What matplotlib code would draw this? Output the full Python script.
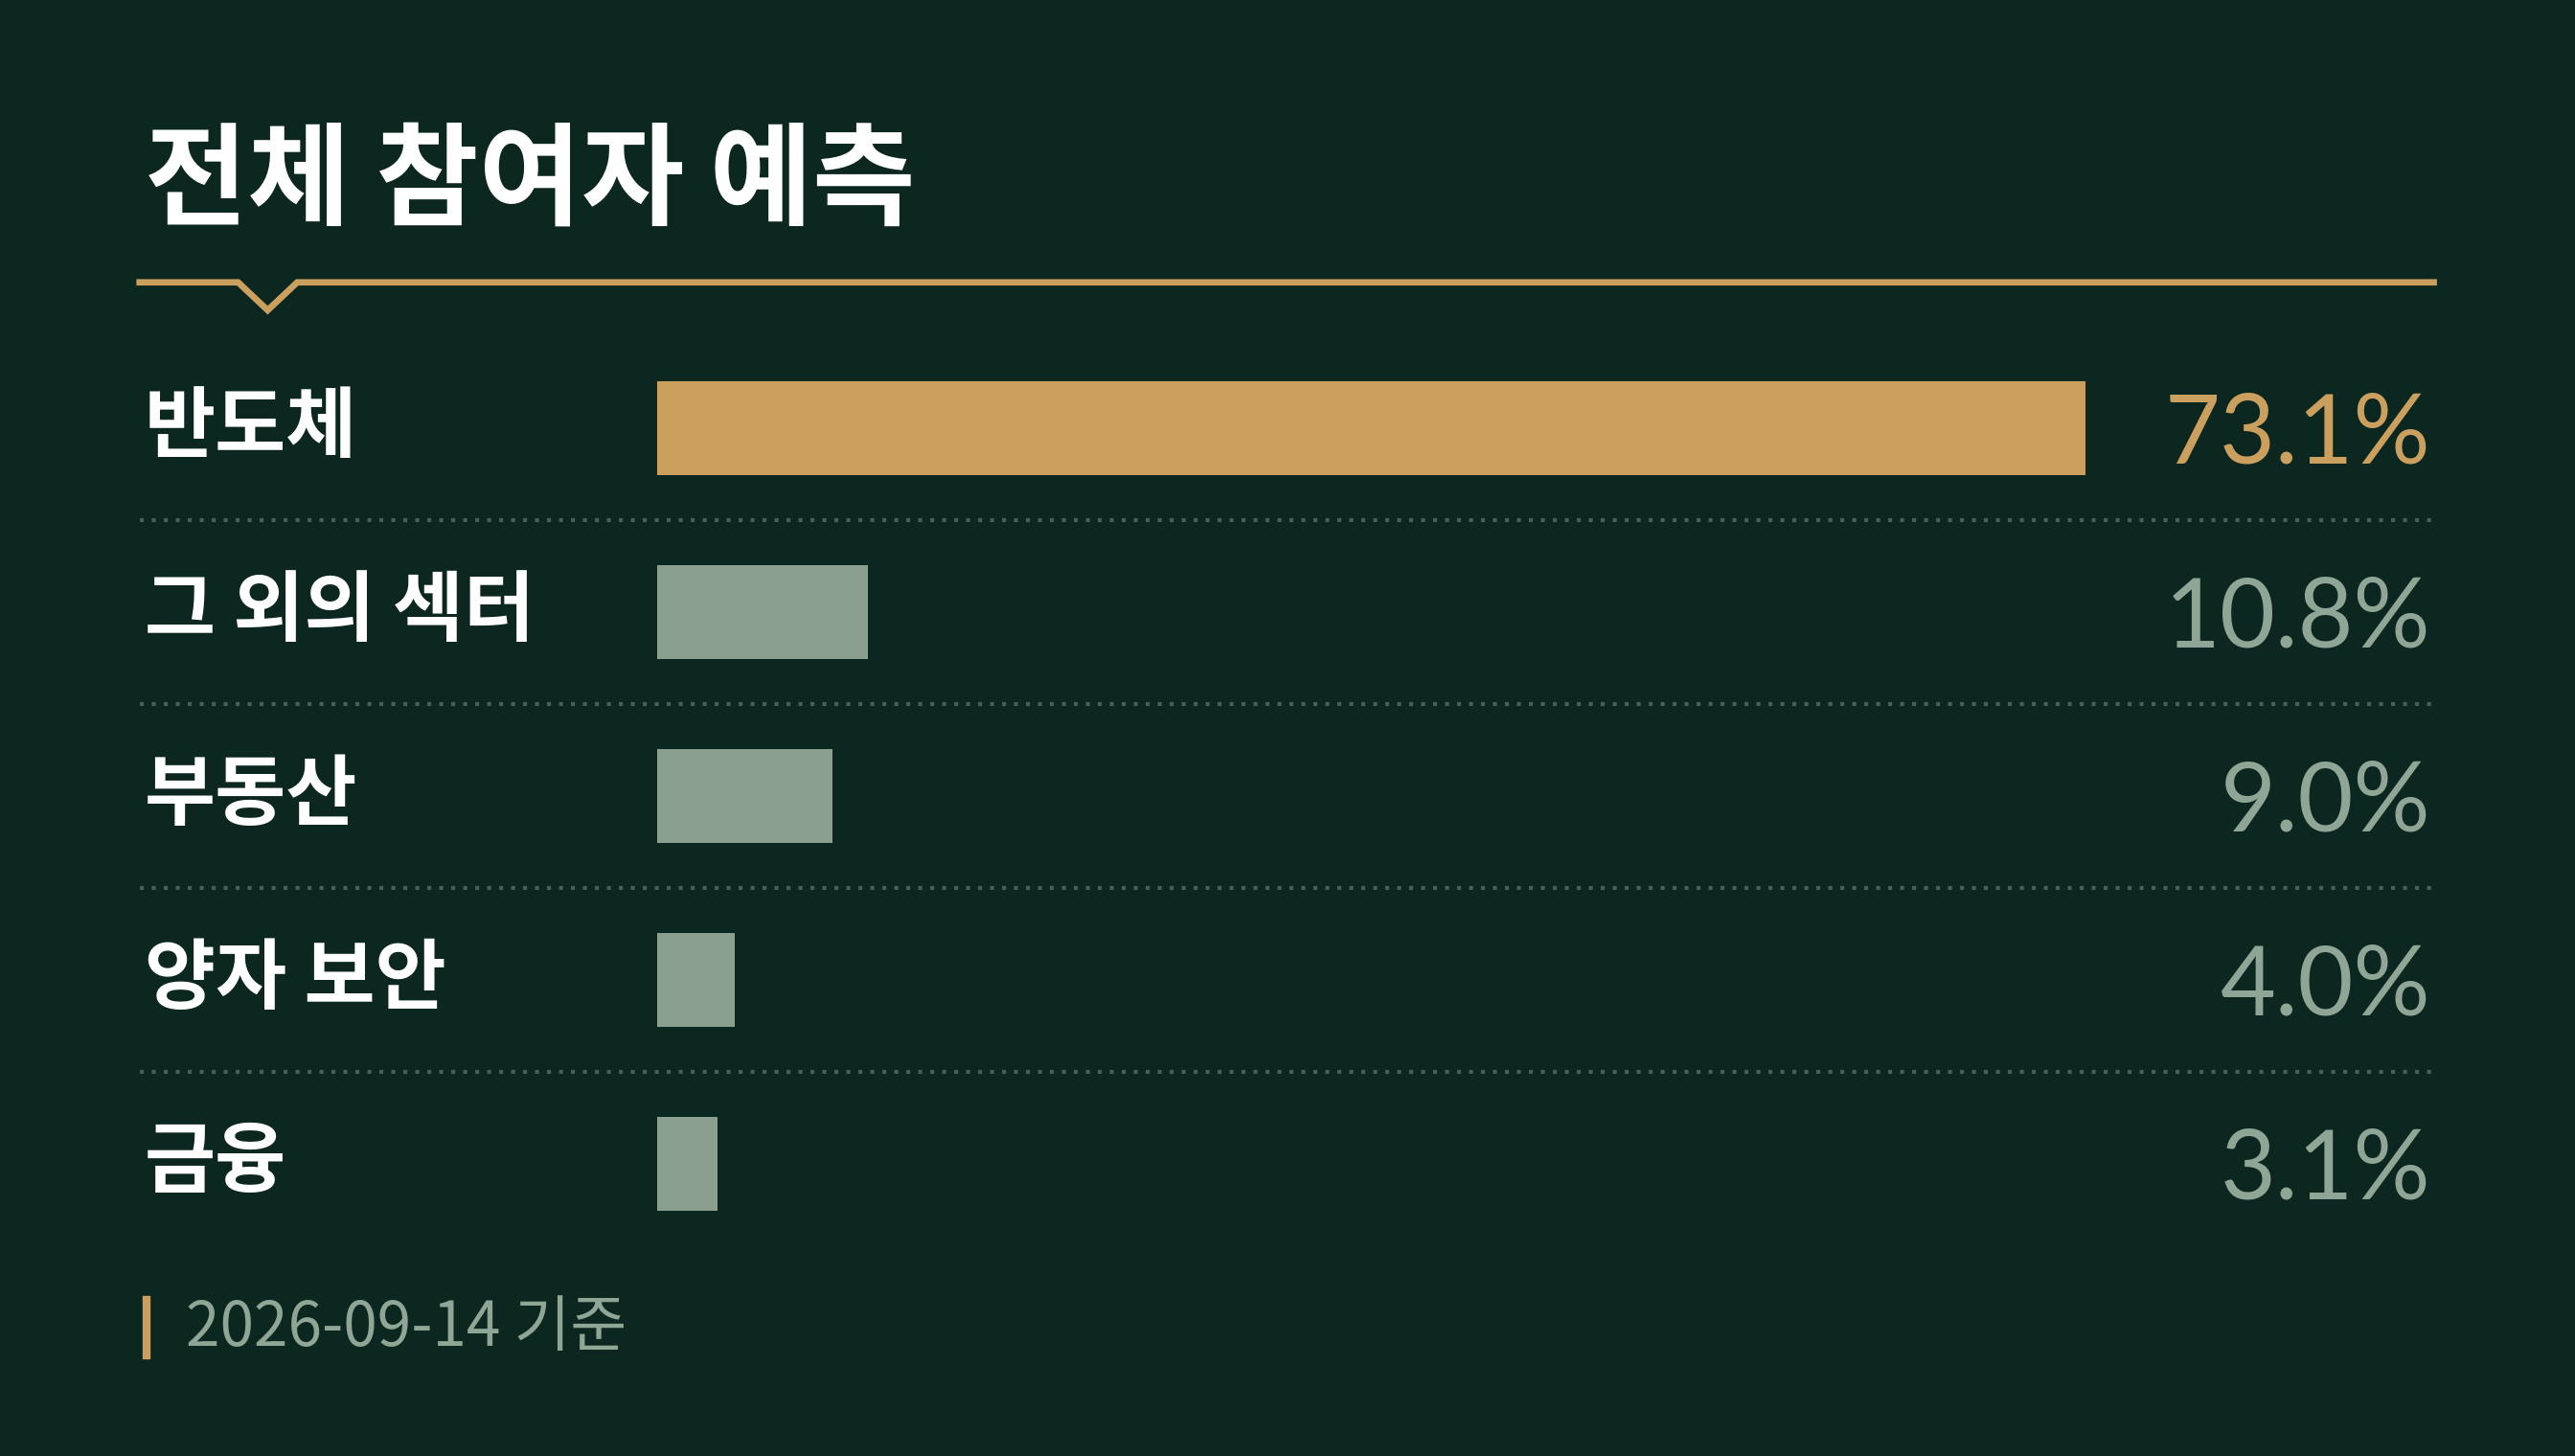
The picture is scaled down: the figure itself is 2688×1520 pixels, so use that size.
import matplotlib.pyplot as plt
import matplotlib.transforms as mtransforms

# data
categories = ['반도체', '그 외의 섹터', '부동산', '양자 보안', '금융']
shares = [73.1, 10.8, 9.0, 4.0, 3.1]
value_labels = ['73.1%', '10.8%', '9.0%', '4.0%', '3.1%']
title = '전체 참여자 예측'
footnote = '2026-09-14 기준'

bg = '#0c2720'
gold = '#cba05f'
sage = '#8b9f8f'
sage_text = '#8fa596'
dot_col = '#416255'

plt.rcParams['font.family'] = ['Noto Sans CJK KR', 'DejaVu Sans']

W, H = 1568, 887  # layout grid (reference preview units)
fig = plt.figure(figsize=(13.44, 7.6), dpi=200, facecolor=bg)

def fx(x):
    return x / W

def fy(y):
    return 1 - y / H

# background axes for decorations
deco = fig.add_axes([0, 0, 1, 1])
deco.set_xlim(0, W)
deco.set_ylim(H, 0)
deco.axis('off')
deco.set_facecolor(bg)

# title
deco.text(88, 112, title, color='white', fontsize=42, fontweight='bold',
          va='center', ha='left')

# gold rule with notch
deco.plot([85, 145, 163, 181, 1482], [172, 172, 189, 172, 172],
          color=gold, lw=2.4, solid_joinstyle='miter')

# footnote
deco.plot([89, 89], [792, 826], color=gold, lw=3)
deco.text(113, 809, footnote, color=sage_text, fontsize=23, va='center', ha='left')

# bar axes
top, bottom = 205, 765
left, right = 400, 1480
ax = fig.add_axes([fx(left), fy(bottom), fx(right) - fx(left), (bottom - top) / H])
ax.set_facecolor('none')
ax.axis('off')
n = len(categories)
ax.set_ylim(n - 0.5, -0.5)
ax.set_xlim(0, shares[0] * (right - left) / (1270 - left))

colors = [gold] + [sage] * (n - 1)
ax.barh(range(n), shares, height=0.51, color=colors, align='center')

trans = mtransforms.blended_transform_factory(fig.transFigure, ax.transData)
for i, (cat, lab) in enumerate(zip(categories, value_labels)):
    ax.text(fx(88), i, cat, transform=trans, color='white', fontsize=29,
            fontweight='bold', va='center', ha='left')
    ax.text(fx(1480), i + 0.04, lab, transform=trans, color=gold if i == 0 else sage_text,
            fontsize=36, family=['Lato', 'DejaVu Sans'], va='center', ha='right')

# dotted separators between rows
for i in range(n - 1):
    ax.plot([fx(85), fx(1482)], [i + 0.5, i + 0.5], transform=trans, color=dot_col,
            lw=1.5, linestyle=(0, (1.0, 2.0)), clip_on=False)

fig.savefig('out.png', dpi=200, facecolor=bg)
